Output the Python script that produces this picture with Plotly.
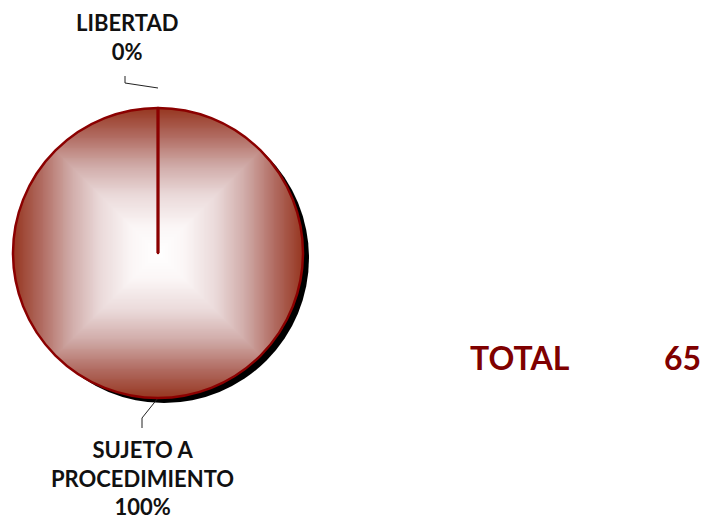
import numpy as np
import plotly.graph_objects as go

# ---- data ----
categories = ["LIBERTAD", "SUJETO A PROCEDIMIENTO"]
counts = [0, 65]
display_labels = ["LIBERTAD", "SUJETO A<br>PROCEDIMIENTO"]
total_label = "TOTAL"

W, H = 702, 523
CX, CY, R = 158, 253, 145  # pie centre / radius in pixels
DARK = "#8B0000"
FONT = "Lato"

total = sum(counts)
pcts = [round(100 * c / total) for c in counts]

# pie domain in paper coords
dx0, dx1 = (CX - R) / W, (CX + R) / W
dy0, dy1 = (H - CY - R) / H, (H - CY + R) / H

fig = go.Figure()

# rectangular radial gradient fill (styling helper)
N = 320
g = np.linspace(-1, 1, N)
GX, GY = np.meshgrid(g, g)
Z = np.maximum(np.abs(GX), np.abs(GY))
Z = np.where(GX**2 + GY**2 <= 1.0, Z, np.nan)
fig.add_trace(go.Heatmap(
    x=g, y=g, z=Z, xaxis="x", yaxis="y", zmin=0, zmax=1, showscale=False,
    hoverinfo="skip",
    colorscale=[[0, "#FFFFFF"], [0.18, "#FBF6F6"], [0.4, "#EAD9D9"],
                [0.6, "#D0ABA8"], [0.8, "#B16C62"], [1.0, "#963620"]],
))

# slice separators from the data (angle of each slice start, clockwise from top)
cum = 0
for c in counts:
    ang = np.pi / 2 - 2 * np.pi * cum / total
    if c == 0:
        fig.add_trace(go.Scatter(x=[0, np.cos(ang)], y=[0, np.sin(ang)], mode="lines",
                                 line=dict(color=DARK, width=3), xaxis="x", yaxis="y",
                                 hoverinfo="skip", showlegend=False))
    cum += c

# pie (outline)
fig.add_trace(go.Pie(
    labels=categories, values=counts, sort=False, direction="clockwise", rotation=0,
    domain=dict(x=[dx0, dx1], y=[dy0, dy1]),
    marker=dict(colors=["rgba(0,0,0,0)"] * 2, line=dict(color=DARK, width=2.5)),
    textinfo="none", showlegend=False, automargin=False, hoverinfo="label+percent",
))

# shadow (paper coords, below all subplots)
sdx, sdy = 6, 5
fig.add_shape(type="circle", xref="paper", yref="paper",
              x0=(CX - R + sdx) / W, x1=(CX + R + sdx) / W,
              y0=(H - CY - R - sdy) / H, y1=(H - CY + R - sdy) / H,
              fillcolor="black", line=dict(width=0), layer="below")

# leader lines (pixel axes)
fig.add_trace(go.Scatter(x=[158, 125, 125], y=[88, 83, 76], mode="lines",
                         line=dict(color="#222", width=1), xaxis="x2", yaxis="y2",
                         hoverinfo="skip", showlegend=False))
fig.add_trace(go.Scatter(x=[158, 142, 142], y=[398, 418, 428], mode="lines",
                         line=dict(color="#222", width=1), xaxis="x2", yaxis="y2",
                         hoverinfo="skip", showlegend=False))

fnt = dict(family=FONT, size=22, color="#111")
fig.add_annotation(x=127, y=37, xref="x2", yref="y2", showarrow=False,
                   text=f"<b>{display_labels[0]}<br>{pcts[0]}%</b>", font=fnt,
                   yanchor="middle", align="center")
fig.add_annotation(x=142, y=478, xref="x2", yref="y2", showarrow=False,
                   text=f"<b>{display_labels[1]}<br>{pcts[1]}%</b>", font=fnt,
                   yanchor="middle", align="center")

tf = dict(family=FONT, size=32, color="#7F0000")
fig.add_annotation(x=520, y=357, xref="x2", yref="y2", showarrow=False,
                   text=f"<b>{total_label}</b>", font=tf)
fig.add_annotation(x=682, y=357, xref="x2", yref="y2", showarrow=False,
                   text=f"<b>{total}</b>", font=tf)

hid = dict(visible=False, showgrid=False, zeroline=False, fixedrange=True)
fig.update_layout(
    width=W, height=H, margin=dict(l=0, r=0, t=0, b=0),
    paper_bgcolor="white", plot_bgcolor="rgba(0,0,0,0)", showlegend=False,
    xaxis=dict(domain=[dx0, dx1], range=[-1, 1], anchor="y", **hid),
    yaxis=dict(domain=[dy0, dy1], range=[-1, 1], anchor="x", **hid),
    xaxis2=dict(domain=[0, 1], range=[0, W], anchor="y2", **hid),
    yaxis2=dict(domain=[0, 1], range=[H, 0], anchor="x2", **hid),
)

fig.write_html("out.html", config={"displayModeBar": False},
               post_script="document.body.style.margin='0';document.body.style.overflow='hidden';")
